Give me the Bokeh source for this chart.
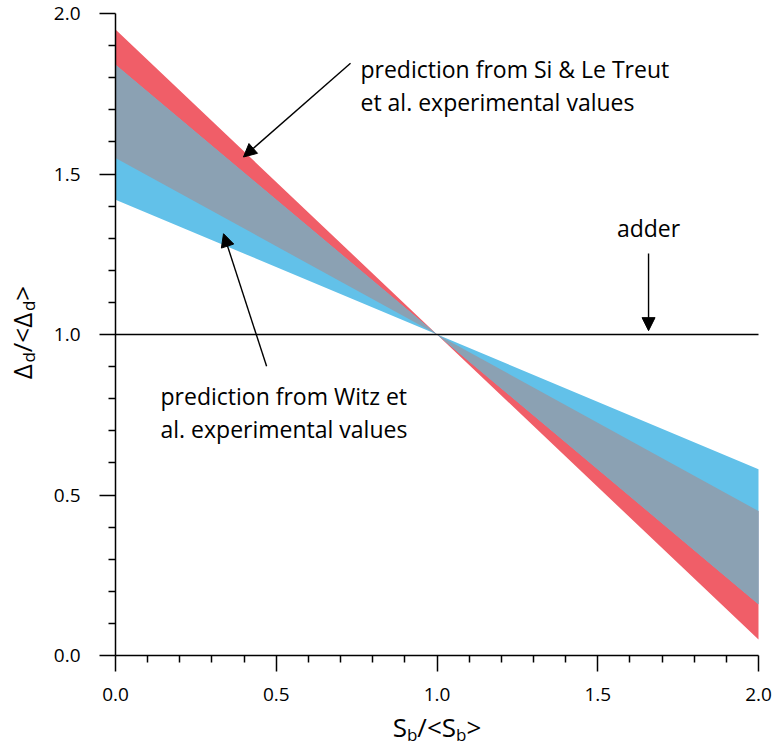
import math
from bokeh.plotting import figure
from bokeh.models import Label, Arrow, NormalHead, FixedTicker, PrintfTickFormatter, Range1d, LinearAxis
from bokeh.embed import file_html
from bokeh.resources import INLINE

# ---- data ----
x_ends = [0.0, 2.0]
si_upper = [1.95, 0.05]      # Si & Le Treut band, edges at x=0 and x=2
si_lower = [1.55, 0.45]
witz_upper = [1.84, 0.16]    # Witz band
witz_lower = [1.42, 0.58]
adder_y = [1.0, 1.0]
major_ticks = [0.0, 0.5, 1.0, 1.5, 2.0]
minor_ticks = [0.1, 0.2, 0.3, 0.4, 0.6, 0.7, 0.8, 0.9, 1.1, 1.2, 1.3, 1.4, 1.6, 1.7, 1.8, 1.9]

RED = "#F05E68"
BLUE = "#62C1E9"
GRAY = "#8BA1B3"
FONT = "Open Sans"

W_PX, H_PX = 772, 745
X0, XS = 115, 321.5   # canvas px of x=0, px per unit
Y0, YS = 655, 321     # canvas px of y=0, px per unit

p = figure(width=W_PX, height=H_PX, output_backend="svg", toolbar_location=None,
           x_range=Range1d(-X0 / XS, (W_PX - X0) / XS),
           y_range=Range1d(-(H_PX - Y0) / YS, Y0 / YS),
           x_axis_location=None, y_axis_location=None, min_border=0)
p.outline_line_color = None
p.xgrid.visible = False
p.ygrid.visible = False
p.background_fill_color = "white"
p.border_fill_color = "white"

def band(upper, lower):
    return [x_ends[0], x_ends[1], x_ends[1], x_ends[0]], [upper[0], upper[1], lower[1], lower[0]]

bx, by = band(si_upper, si_lower)
p.patch(bx, by, fill_color=RED, line_color=None)
bx, by = band(witz_upper, witz_lower)
p.patch(bx, by, fill_color=BLUE, line_color=None)
ov_up = [min(si_upper[0], witz_upper[0]), max(si_upper[1], witz_upper[1])]
ov_lo = [max(si_lower[0], witz_lower[0]), min(si_lower[1], witz_lower[1])]
bx, by = band(ov_up, ov_lo)
p.patch(bx, by, fill_color=GRAY, line_color=None)

p.line(x_ends, adder_y, line_color="black", line_width=1.3)

xaxis = LinearAxis(fixed_location=0)
yaxis = LinearAxis(fixed_location=0)
for ax in (xaxis, yaxis):
    ax.ticker = FixedTicker(ticks=major_ticks, minor_ticks=minor_ticks)
    ax.formatter = PrintfTickFormatter(format="%.1f")
    ax.bounds = (0, 2)
    ax.axis_line_color = "black"
    ax.axis_line_width = 1.5
    ax.major_tick_line_color = "black"
    ax.major_tick_line_width = 1.5
    ax.minor_tick_line_color = "black"
    ax.minor_tick_line_width = 1.5
    ax.major_tick_in = 0
    ax.major_tick_out = 16
    ax.minor_tick_in = 0
    ax.minor_tick_out = 7
    ax.major_label_text_font = FONT
    ax.major_label_text_font_size = "19px"
    ax.major_label_text_color = "black"
xaxis.major_label_standoff = 16
yaxis.major_label_standoff = 19
p.add_layout(xaxis, "below")
p.add_layout(yaxis, "left")

# ---- annotations ----
def txt(x, y, s, align="left", size="23px"):
    p.add_layout(Label(x=x, y=y, text=s, text_font=FONT, text_font_size=size,
                       text_align=align, text_baseline="alphabetic", text_color="black"))

txt(0.762, 1.826, "prediction from Si & Le Treut")
txt(0.762, 1.724, "et al. experimental values")
txt(0.14, 0.807, "prediction from Witz et")
txt(0.14, 0.705, "al. experimental values")
txt(1.658, 1.332, "adder", align="center")

def arrow(x0, y0, x1, y1):
    p.add_layout(Arrow(end=NormalHead(size=13, fill_color="black", line_color="black", line_width=1),
                       x_start=x0, y_start=y0, x_end=x1, y_end=y1,
                       line_color="black", line_width=1.4))

arrow(0.731, 1.845, 0.398, 1.553)
arrow(0.470, 0.901, 0.336, 1.314)
arrow(1.658, 1.252, 1.658, 1.012)

# ---- axis titles with subscripts ----
W = {'S': 0.55, 'b': 0.61, 'd': 0.61, '/': 0.37, '<': 0.57, '>': 0.57, 'Δ': 0.64}
MAIN, SUB = 26, 17

def composite(x, y, pieces, rotated=False):
    widths = [sum(W[c] for c in t) * (SUB if sub else MAIN) for t, sub in pieces]
    pos = -sum(widths) / 2
    for (t, sub), w in zip(pieces, widths):
        shift = 7 if sub else 0
        size = f"{SUB if sub else MAIN}px"
        if rotated:
            lab = Label(x=x, y=y, x_offset=shift, y_offset=pos, angle=math.pi / 2, text=t)
        else:
            lab = Label(x=x, y=y, x_offset=pos, y_offset=-shift, text=t)
        lab.text_font = FONT
        lab.text_font_size = size
        lab.text_align = "left"
        lab.text_baseline = "alphabetic"
        lab.text_color = "black"
        p.add_layout(lab)
        pos += w

composite(1.0, -0.2236, [("S", False), ("b", True), ("/<S", False), ("b", True), (">", False)])
composite(-0.292, 1.006, [("Δ", False), ("d", True), ("/<Δ", False), ("d", True), (">", False)], rotated=True)

open("out.html", "w").write(file_html(p, INLINE))
